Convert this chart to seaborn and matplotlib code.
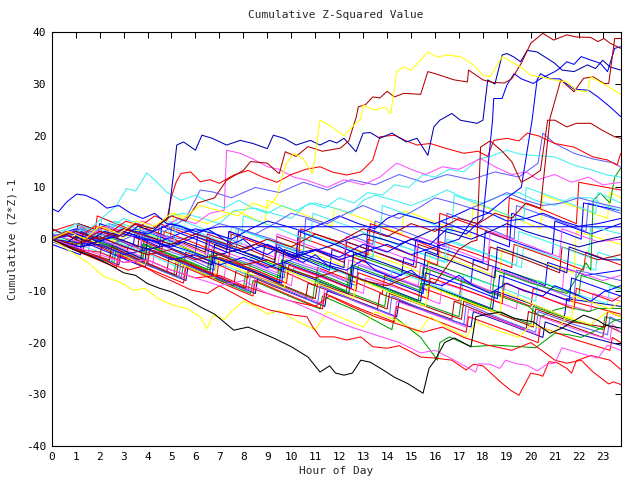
import matplotlib
matplotlib.use("Agg")
import matplotlib.pyplot as plt
import seaborn as sns
import pandas as pd

# ---------------- data (hour, cumulative value) ----------------
hour_ticks = list(range(0, 24))
value_ticks = [-40, -30, -20, -10, 0, 10, 20, 30, 40]

RED, GREEN, BLUE, MAG, CYAN = "#ff0000", "#00a000", "#0000ff", "#ff50ff", "#40f0f0"
DRED, YEL, SLATE, DBLUE, BLACK = "#b00000", "#ffff00", "#6060ff", "#0000b0", "#000000"

g01 = [(0,0),(0.8,-1.8),(0.9,0.5),(2,-1.5),(3.1,-3.8),(3.2,-1),(4.5,-3.5),(5.5,-5.5),(5.6,-2.5),(7,-5),(8.2,-7.5),(8.3,-4),(9.8,-6.5),(11,-9),(11.1,-5.5),(12.5,-8),(13.8,-10.5),(13.9,-7),(15.5,-9.5),(17,-12),(17.1,-8),(18.6,-10.5),(20,-13),(20.1,-9.5),(21.7,-12),(23.75,-14.5)]
g02 = [(0,1),(1.2,-1),(1.3,2.5),(2.6,0),(3.8,-2),(3.9,1.5),(5.2,-1),(6.4,-3.5),(6.5,0),(8,-2.5),(9.3,-5),(9.4,-2),(11,-4.5),(12.5,-7),(12.6,-3),(14.2,-5.5),(15.6,-8),(15.7,-4.5),(17.3,-7),(18.8,-9.5),(18.9,-6),(20.5,-8.5),(22,-11),(22.1,-7),(23.75,-9.5)]
g03 = [(0,2),(1,0),(1.1,3),(2.3,1),(3.4,-1.5),(3.5,2),(4.8,0),(6,-2.5),(6.1,1),(7.5,-1.5),(8.8,-4),(8.9,-1),(10.3,-3.5),(11.6,-6),(11.7,-2),(13.2,-4.5),(14.6,-7),(14.7,-3.5),(16.2,-6),(17.5,-8.5),(17.6,-4),(19.2,-6.5),(20.6,-9),(20.7,-4.5),(22.3,-7),(23.75,-6)]
g04 = [(0,0),(1.5,-3),(1.6,-0.5),(3,-3),(4.2,-5.5),(4.3,-2),(5.8,-5),(7.2,-7.5),(7.3,-4),(8.8,-6.5),(10,-9),(10.1,-5.5),(11.6,-8),(13,-10.5),(13.1,-7.5),(14.8,-10),(16.2,-12.5),(16.3,-8.5),(18,-11),(19.4,-13.5),(19.5,-9.5),(21,-12),(22.5,-14),(22.6,-10.5),(23.75,-12)]
g05 = [(0,1),(1,2.5),(2,1),(2.1,4),(3.3,2),(4.5,0),(4.6,3.5),(6,1),(7.4,-1.5),(7.5,2.5),(9,0),(10.3,-2.5),(10.4,1.5),(12,-1),(13.4,-3.5),(13.5,0.5),(15,-2),(16.5,-4.5),(16.6,-0.5),(18.2,-3),(19.6,-5.5),(19.7,-1.5),(21.3,-4),(22.7,-6),(22.8,-2.5),(23.75,-4)]
g06 = [(0,0),(1,-2),(2,-3.5),(2.1,-1),(3.5,-4),(4.8,-6.5),(4.9,-3.5),(6.3,-6.5),(7.6,-9),(7.7,-6),(9.2,-9),(10.6,-11.5),(10.7,-8.5),(12.2,-11),(13.6,-13.5),(13.7,-10.5),(15.2,-13),(16.7,-15.5),(16.8,-12),(18.4,-15),(19.8,-17.5),(19.9,-14),(21.5,-16.5),(23,-19),(23.1,-16.5),(23.75,-18)]
g07 = [(0,0.5),(1.2,-1.5),(1.3,1.5),(2.7,-0.5),(3.9,-3),(4,1),(5.5,-1.5),(6.8,-4),(6.9,-0.5),(8.4,-3),(9.7,-5.5),(9.8,-1),(11.3,-3.5),(12.6,-6),(12.7,-2),(14.3,-4.5),(15.7,-7),(15.8,-2.5),(17.3,-5),(18.7,-7.5),(18.8,-2),(20.4,-4.5),(21.8,-6.5),(21.9,1.5),(23.75,-1)]
g08 = [(0,-0.5),(1.3,-2.5),(1.4,0),(2.8,-2),(4,-4.5),(4.1,-1),(5.6,-3.5),(6.8,-6),(6.9,-2.5),(8.4,-5),(9.7,-7.5),(9.8,-4),(11.4,-6.5),(12.7,-9),(12.8,-5),(14.3,-7.5),(15.7,-10),(15.8,-6),(17.4,-8.5),(18.8,-11),(18.9,-6.5),(20.4,-9),(21.8,-11.5),(21.9,-6),(23.75,-8)]
g09 = [(0,0),(0.9,-2),(1,0.5),(2.4,-2),(3.7,-4.5),(3.8,-1.5),(5.3,-4),(6.6,-6.5),(6.7,-3.5),(8.2,-6),(9.5,-8.5),(9.6,-5.5),(11.1,-8),(12.4,-10.5),(12.5,-7),(14,-9.5),(15.4,-12),(15.5,-8.5),(17,-11),(18.4,-13.5),(18.5,-10),(20,-12.5),(21.4,-15),(21.5,-11.5),(23.75,-13)]
g10 = [(0,1.5),(1,3),(1.8,1),(1.9,4.5),(3.2,2),(4.4,-0.5),(4.5,3),(6,0.5),(7.3,-2),(7.4,1.5),(8.9,-1),(10.2,-3.5),(10.3,0.5),(11.8,-2),(13.1,-4.5),(13.2,0),(14.7,-2.5),(16.1,-5),(16.2,-0.5),(17.8,-3),(19.2,-5.5),(19.3,-1),(20.8,-3.5),(22.2,-6),(22.3,-2.5),(23.75,-5)]
g11 = [(0,0),(1.2,-2.5),(2.4,-4.5),(2.5,-2),(3.9,-4.5),(5.1,-7),(5.2,-4),(6.7,-7),(8,-9.5),(8.1,-6.5),(9.6,-9),(10.9,-11.5),(11,-8),(12.5,-10.5),(13.9,-13),(14,-10),(15.5,-12.5),(17,-15),(17.1,-11.5),(18.6,-14),(20,-16.5),(20.1,-13),(21.6,-15.5),(23,-17.5),(23.1,-15),(23.75,-16)]
g12 = [(0,0),(1,-1.5),(1.1,1.5),(2.5,-0.5),(3.7,-2.5),(3.8,1),(5.2,-1.5),(6.5,-3.5),(6.6,0),(8,-2.5),(9.3,-4.5),(9.4,-1),(10.9,-3.5),(12.2,-5.5),(12.3,-0.5),(13.8,-3),(15.1,-5),(15.2,0),(16.7,-2.5),(18,-4.5),(18.1,1.5),(19.6,-1),(20.9,-3),(21,3.5),(22.5,1),(23.75,3)]
g13 = [(0,0),(1.1,-1.5),(1.2,1),(2.6,-1),(3.8,-3.5),(3.9,0),(5.3,-2.5),(6.6,-5),(6.7,-1.5),(8.1,-4),(9.4,-6.5),(9.5,-3),(11,-5.5),(12.3,-8),(12.4,-4),(13.9,-6.5),(15.3,-9),(15.4,-5),(17,-7.5),(18.3,-10),(18.4,-5.5),(19.9,-8),(21.3,-10.5),(21.4,-5.5),(23,-8),(23.75,-7)]
g14 = [(0,0.5),(1.4,-1.5),(2.6,-3.5),(2.7,-0.5),(4.1,-3),(5.3,-5.5),(5.4,-2),(6.9,-4.5),(8.2,-7),(8.3,-3.5),(9.8,-6),(11.1,-8.5),(11.2,-5),(12.7,-7.5),(14.1,-10),(14.2,-6),(15.7,-8.5),(17.1,-11),(17.2,-7),(18.8,-9.5),(20.2,-12),(20.3,-8),(21.8,-10.5),(23.2,-12.5),(23.3,-9),(23.75,-10)]
g15 = [(0,2),(1,0),(1.1,3),(2.4,1),(3.6,-1.5),(3.7,2.5),(5.1,0),(6.4,-2.5),(6.5,1),(8,-1.5),(9.3,-4),(9.4,0.5),(10.9,-2),(12.2,-4.5),(12.3,-0.5),(13.8,-3),(15.2,-5.5),(15.3,-1),(16.9,-3.5),(18.2,-6),(18.3,-1.5),(19.8,-4),(21.2,-6.5),(21.3,-1.5),(22.8,-4),(23.75,-3)]
g16 = [(0,0),(1.3,-1),(1.4,2),(2.8,0),(4,2.5),(5,1),(5.1,5),(6.5,3),(7.7,5.5),(8.9,3),(9,7.5),(10.4,5),(11.7,2.5),(11.8,6),(13.3,3.5),(14.6,1),(14.7,5.5),(16.2,3),(17.5,0.5),(17.6,7),(19.1,4.5),(20.4,2),(20.5,8.5),(22,6),(23.2,4),(23.3,9),(23.75,8)]
g17 = [(0,0),(1.1,2),(2.3,0),(2.4,3),(3.7,1),(4.9,-1.5),(5,2.5),(6.4,0.5),(7.7,-2),(7.8,2),(9.2,0),(10.5,-2.5),(10.6,4),(12.1,1.5),(13.4,-1),(13.5,3.5),(15,1),(16.4,-1.5),(16.5,5),(18,2.5),(19.3,0),(19.4,6.5),(20.9,4),(22.3,1.5),(22.4,7),(23.75,5)]
g18 = [(0,0),(1.5,-3),(2.8,-5),(2.9,-2.5),(4.3,-5.5),(5.6,-8),(5.7,-5),(7.2,-8),(8.5,-10.5),(8.6,-7.5),(10.1,-10.5),(11.4,-13),(11.5,-10),(13,-12.5),(14.4,-15),(14.5,-12),(16,-14.5),(17.5,-17),(17.6,-14),(19.1,-16.5),(20.5,-19),(20.6,-16),(22.1,-18.5),(23.75,-20.5)]
g19 = [(0,0),(1,1.5),(2,-0.5),(2.1,2.5),(3.4,0.5),(4.6,-2),(4.7,1.5),(6.1,-1),(7.4,-3.5),(7.5,1),(9,-1.5),(10.3,-4),(10.4,2),(11.9,-0.5),(13.2,-3),(13.3,3),(14.8,0.5),(16.1,-2),(16.2,5),(17.7,2.5),(19,0),(19.1,8),(20.6,5.5),(21.9,3),(22,11),(23.75,9.5)]
g20 = [(0,0),(1.2,-2),(1.3,0.5),(2.6,-1.5),(3.8,-4),(3.9,-1),(5.3,-3.5),(6.6,-6),(6.7,-2.5),(8.2,-5),(9.5,-7.5),(9.6,-4),(11.1,-6.5),(12.4,-9),(12.5,-5),(14,-7.5),(15.4,-10),(15.5,-5.5),(17,-8),(18.4,-10.5),(18.5,-6),(20,-8.5),(21.5,-10.5),(22.3,-4.6),(22.5,-6),(22.6,7.5),(22.9,8.9),(23.3,7),(23.5,12),(23.75,13.7)]
g21 = [(0,0),(1,-1.5),(1.1,1),(2.5,-1.5),(3.7,-4),(3.8,-1),(5.2,-3.5),(6.5,-6),(6.6,-3),(8.1,-5.5),(9.4,-8),(9.5,-5),(11,-7.5),(12.3,-10),(12.4,-7),(13.9,-9.5),(15.3,-12),(15.4,-8.5),(16.9,-11),(18.3,-13.5),(18.4,-10.5),(19.9,-13),(20.4,-15),(21,-13.7),(21.5,-13.1),(22.4,-14),(22.8,-13.4),(23.75,-13.4)]
g22 = [(0,0),(1.3,-2.5),(2.6,-4.5),(2.7,-2),(4.1,-5),(5.4,-7.5),(5.5,-5),(7,-8),(8.3,-10.5),(8.4,-8),(9.9,-11),(11.2,-13.5),(11.3,-11),(12.8,-14),(14.2,-17.5),(14.3,-15),(15.4,-19),(16.1,-23.4),(16.2,-20),(16.6,-18.9),(17.5,-20.8),(18.5,-20.5),(19.6,-20.8),(20.2,-21),(21,-18.2),(21.6,-18.5),(22.1,-19),(22.6,-17.9),(23.2,-16.6),(23.5,-15.7),(23.75,-15.5)]
g23 = [(0,0),(1.4,-2.5),(2.7,-5),(2.8,-2),(4.2,-5),(5.5,-7.5),(5.6,-4.5),(7.1,-7.5),(8.4,-10),(8.5,-7),(10,-10),(11.3,-12.5),(11.4,-9.5),(12.9,-12.5),(14.3,-15),(14.4,-12),(15.9,-14.5),(17.3,-17),(17.4,-13.5),(18.9,-16),(20.3,-18.5),(20.4,-15),(21.9,-17.5),(23.3,-19.5),(23.4,-16.5),(23.75,-18)]
g24 = [(0,0),(1.2,1.5),(2.2,0),(2.3,3),(3.6,1),(4.8,-1.5),(4.9,3.5),(6.3,1),(7.6,-1.5),(7.7,2),(9.2,-0.5),(10.5,-3),(10.6,1),(12.1,-1.5),(13.4,-4),(13.5,0.5),(15,-2),(16.4,-4.5),(16.5,0),(18,-2.5),(19.4,-5),(19.5,1.5),(21,-1),(22.4,-3.5),(22.5,2.5),(23.75,1)]
g25 = [(0,-1),(1.2,-3),(1.3,-0.5),(2.6,-3),(3.9,-5.5),(4,-2),(5.4,-4.5),(6.7,-7),(6.8,-3.5),(8.3,-6),(9.6,-8.5),(9.7,-4.5),(11.2,-7),(12.5,-9.5),(12.6,-5.5),(14.1,-8),(15.5,-10.5),(15.6,-6.5),(17.2,-9),(18.6,-11.5),(18.7,-7),(20.2,-9.5),(21.6,-12),(21.7,-7.5),(23.2,-10),(23.75,-9)]
g26 = [(0,0),(1.3,-2.5),(1.4,0),(2.8,-2.5),(4,-5),(4.1,-2),(5.6,-4.5),(6.9,-7),(7,-3.5),(8.5,-6),(9.8,-8.5),(9.9,-5),(11.4,-7.5),(12.7,-10),(12.8,-6.5),(14.3,-9),(15.7,-11.5),(15.8,-7.5),(17.4,-10),(18.8,-12.5),(18.9,-8.5),(20.4,-11),(21.8,-13.5),(21.9,-9.5),(23.4,-12),(23.75,-11)]
g27 = [(0,0),(1.1,-2),(2.4,-4),(2.5,-1.5),(3.9,-4.5),(5.2,-7),(5.3,-4),(6.8,-7),(8.1,-9.5),(8.2,-6),(9.7,-9),(11,-11.5),(11.1,-8.5),(12.6,-11),(14,-13.5),(14.1,-10.5),(15.6,-13),(17.1,-15.5),(17.2,-12),(18.7,-14.5),(20.1,-17),(20.2,-13.5),(21.7,-16),(23.1,-17),(23.2,-14),(23.75,-15)]
g28 = [(0,0),(1.2,-2),(1.3,0.5),(2.7,-2.5),(3.9,-5),(4,-2),(5.5,-5),(6.8,-7.5),(6.9,-4),(8.4,-7),(9.7,-9.5),(9.8,-6),(11.3,-9),(12.6,-11.5),(12.7,-7.5),(14.2,-10.5),(15.6,-13),(15.7,-9),(17.3,-12),(18.7,-14.5),(18.8,-10),(20.3,-13),(21.7,-15.5),(21.8,-11),(23.3,-13.5),(23.75,-12)]
g29 = [(0,0),(1.2,-2.5),(2.5,-4.5),(2.6,-2),(4,-5),(5.3,-7.5),(5.4,-4.5),(6.9,-7.5),(8.2,-10),(8.3,-7),(9.8,-10),(11.1,-12.5),(11.2,-9),(12.7,-12),(14.1,-14.5),(14.2,-11),(15.7,-14),(17.2,-16.5),(17.3,-12.5),(18.8,-15.5),(20.2,-18),(20.3,-14),(21.8,-16.5),(23.2,-18.5),(23.3,-15),(23.75,-16)]
g30 = [(0,0.5),(1,2),(1.9,0),(2,3),(3.3,1),(4.5,-1.5),(4.6,2.5),(6,0),(7.3,-2.5),(7.4,1.5),(8.9,-1),(10.2,-3.5),(10.3,1.5),(11.8,-1),(13.1,-3.5),(13.2,2),(14.7,-0.5),(16.1,-3),(16.2,3.5),(17.7,1),(19.1,-1.5),(19.2,5),(20.7,2.5),(22.1,0),(22.2,7),(23.75,5.5)]
g31 = [(0,1),(1.1,-0.5),(1.2,2.5),(2.5,0.5),(3.7,-2),(3.8,2),(5.2,-0.5),(6.5,-3),(6.6,1.5),(8,-1),(9.3,-3.5),(9.4,1),(10.9,-1.5),(12.2,-4),(12.3,0.5),(13.8,-2),(15.2,-4.5),(15.3,0.5),(16.8,-2),(18.2,-4.5),(18.3,1.5),(19.8,-1),(21.2,-3.5),(21.3,2),(22.8,-0.5),(23.75,0)]
g32 = [(0,0),(1.3,2),(2.5,0),(2.6,3.5),(3.9,1.5),(5.1,-1),(5.2,4),(6.6,1.5),(7.9,-1),(8,4.5),(9.5,2),(10.8,-0.5),(10.9,5),(12.4,2.5),(13.7,0),(13.8,6.5),(15.3,4),(16.7,1.5),(16.8,8.5),(18.3,6),(19.7,3.5),(19.8,10),(21.3,7.5),(22.7,5),(22.8,9),(23.75,7)]
g33 = [(0,0),(1.2,-2),(1.3,1),(2.7,-1.5),(3.9,-4),(4,0),(5.4,-2.5),(6.7,-5),(6.8,-1),(8.3,-3.5),(9.6,-6),(9.7,-2),(11.2,-4.5),(12.5,-7),(12.6,-2.5),(14.1,-5),(15.5,-7.5),(15.6,-2.5),(17.1,-5),(18.5,-7.5),(18.6,-1.5),(20.1,-4),(21.5,-6.5),(21.6,-1.5),(23.1,-4),(23.75,-4)]
g34 = [(0,0),(1.4,-3),(2.7,-5.5),(2.8,-3),(4.2,-6),(5.5,-8.5),(5.6,-5.5),(7.1,-8.5),(8.4,-11),(8.5,-8),(10,-11),(11.3,-13.5),(11.4,-10.5),(12.9,-13.5),(14.3,-16),(14.4,-13),(15.9,-15.5),(17.3,-18),(17.4,-15),(18.9,-17.5),(20.3,-20),(20.4,-17),(21.9,-19.5),(23.3,-21.5),(23.4,-19),(23.75,-20)]
g35 = [(0,0),(0.7,1),(1.5,2),(2.2,1.5),(3,4),(3.6,3),(4.3,2),(5,4.5),(5.5,5),(6.3,4),(7,3),(7.6,5.5),(8.5,6),(9.2,5),(10,4),(10.6,6.5),(11,7),(11.8,6),(12.5,5),(13,7.5),(13.5,8.5),(14.3,7.5),(15,6.5),(15.8,8),(16.5,9.5),(17.2,8),(18,7),(18.8,8.5),(19.5,9),(20.2,7.5),(21,6.5),(21.7,8),(22.5,8),(23.1,6.5),(23.75,5.5)]
g36 = [(0,0),(0.8,-0.5),(1.5,-1),(2.3,0),(3,1),(3.8,0),(4.5,-0.5),(5.3,1),(6,2),(6.8,1),(7.5,0),(8.3,2),(9,3.5),(9.8,2.5),(10.5,1.5),(11.3,3),(12,4.5),(12.8,3),(13.5,2),(14,4),(14.5,5),(15.3,4),(16,3),(16.8,4.5),(17.5,6),(18.3,5),(19,3.5),(19.8,4),(20.5,5),(21.3,3.5),(22,2.5),(22.8,3),(23.75,4)]
g37 = [(0,0),(0.5,0.5),(1,1),(1.8,0),(2.5,-1),(3.3,0.5),(4,1.5),(4.8,0.5),(5.5,0),(6.3,1.5),(7,3),(7.8,2),(8.5,1),(9.3,3),(10,5),(10.8,4),(11.5,3),(12.3,5),(13,6.5),(13.8,5),(14.5,4),(15.3,6),(16,8),(16.8,7),(17.5,6),(18.3,7.5),(19,9),(19.8,7.5),(20.5,6.5),(21.3,7),(22,8),(22.8,7),(23.75,6)]
g38 = [(0,0),(0.6,-0.7),(1.2,-1.5),(1.9,-0.5),(2.5,0.5),(3.3,-0.8),(4,-2),(4.8,-1.2),(5.5,-0.5),(6.3,-1.8),(7,-3),(7.8,-2),(8.5,-1),(9.3,-2.2),(10,-3.5),(10.8,-2.5),(11.5,-1.5),(12.3,-0.2),(13,1),(13.8,0),(14.5,-1),(15.3,0.5),(16,2),(16.8,1),(17.5,0),(18.3,1.5),(19,3),(19.8,1.5),(20.5,0.5),(21.3,-0.5),(22,-1.5),(22.8,-0.5),(23.75,0.5)]

slate_hi = [(0,0),(1.2,2),(2.4,0.5),(3.5,3),(4.7,1.5),(5.6,4),(6.2,9.5),(6.75,9.1),(7.5,8),(8.5,10),(9.5,9),(10.5,11),(11.5,9.5),(12.5,11.5),(13.5,10.5),(14.5,12.5),(15.5,11),(16.5,12.5),(17.5,11.5),(18.5,13),(19.5,12),(20.3,14.7),(20.5,20.5),(21,18.5),(21.8,16.6),(22.6,15.5),(23.5,14.7),(23.75,13.9)]
cyan_hi = [(0,0),(0.5,1.5),(1,3),(1.6,2),(2.2,4.5),(2.7,6.5),(3.13,9.8),(3.5,9.3),(3.97,12.8),(4.4,11),(4.8,9.1),(5.4,7.5),(6,8.5),(6.6,7),(7.2,6),(7.8,7.5),(8.4,6),(9,5),(9.6,6.5),(10.2,5.5),(10.8,7),(11.4,6),(12,8),(12.6,7),(13.2,9),(13.8,8.5),(14.3,10.5),(14.9,10),(15.5,12.5),(16,12),(16.6,13.5),(17.2,13),(17.8,15.5),(18.3,16),(19,17.2),(19.5,16.5),(20.1,16.2),(21,15.9),(21.8,14.3),(22.6,13.3),(23.2,12.4),(23.75,12)]
magenta_hi = [(0,0),(0.8,1.5),(1.5,0.5),(2.3,2.5),(3,1.5),(3.8,3.5),(4.5,2),(5.3,4),(6,3),(6.6,5),(7.2,5.6),(7.3,17.2),(7.87,16.6),(8.4,15.5),(9.0,14),(9.5,13.5),(10.1,12),(10.65,11.4),(11.5,10),(12.2,11.5),(13,10.5),(13.7,12),(14.4,14.7),(15,13.5),(15.6,12.5),(16.3,14),(17,13.5),(17.9,15.6),(18.5,14),(19.2,12.5),(19.8,13),(20.3,11.5),(21,12.5),(21.7,11),(22.4,12),(23,10.5),(23.75,11)]
red_hi = [(0,0),(0.6,1.5),(1.2,0.5),(1.8,2.5),(2.5,1.5),(3.1,3.5),(3.7,2.5),(4.3,4.5),(4.8,3.5),(5.0,8.2),(5.2,11.1),(5.4,12.7),(5.8,13),(6.2,11.1),(6.6,11.5),(7.0,10.8),(7.6,12.4),(8.2,13.3),(8.8,12),(9.4,11),(10.0,12.5),(10.6,13.5),(11.2,14),(11.7,13),(12.3,12.4),(12.9,13),(13.4,15.3),(13.7,19.8),(14.3,20.1),(14.8,19),(15.25,18.2),(15.8,18.5),(16.5,17.5),(17.2,16.6),(17.8,17),(18.2,16),(18.45,19.1),(19.0,19.5),(19.5,19),(19.85,20.5),(20.3,20),(21,18.5),(21.8,17.8),(22.6,15.9),(23.2,15.3),(23.6,14.3),(23.75,16.6)]
blue_start6 = [(0,5.9),(0.28,5.3),(0.63,7.2),(1.04,8.7),(1.4,8.5),(1.88,7.5),(2.3,6),(2.8,6.5),(3.3,5),(3.8,4),(4.3,5),(4.8,3),(5.4,2.5),(6,1),(6.5,2),(7,0.5),(7.5,-1),(8,0),(8.5,-2),(9,-3),(9.5,-1.5),(10,-3.5),(10.5,-4.5),(11,-3),(11.5,-5),(12.3,-6),(13,-4),(13.5,-6),(14.3,-7.5),(15,-6),(15.5,-8),(16.3,-9),(17,-7),(17.6,-9),(18.3,-10.5),(19,-8.5),(19.7,-10),(20.5,-11),(21,-9),(21.8,-10.5),(22.5,-12),(23.1,-10),(23.75,-11)]
blue_flat = [(0,0),(1,1.5),(2,0),(3,2),(4,1),(5,3),(6,1.5),(7,2.4),(23.75,2.4)]
blue_jump20 = [(0,0),(1,1),(2,-0.5),(3,1.5),(4,0),(5,-1.5),(6,0.5),(7,-1),(8,-2.5),(9,-1),(10,-3),(11,-2),(12,-4),(13,-2.5),(14,-1),(15,-3),(16,-1.5),(17,0),(17.6,4),(18.2,5),(19,8),(19.6,10),(20.05,23),(20.26,30.8),(20.4,32),(20.8,31),(21.2,31),(21.8,29),(22.4,28.8),(22.8,27.5),(23.3,25.6),(23.75,23.7)]
blue_jump18 = [(0,0),(1,-1.5),(2,-1),(3,-3),(4,-2),(5,-4),(6,-3),(7,-5),(8,-3.5),(9,-5.5),(10,-4),(11,-2),(12,-3.5),(13,-1),(14,-2.5),(15,0),(15.8,-1),(16.5,2),(17.3,1),(18,4),(18.4,23),(18.45,27.2),(18.8,27.2),(19.0,29.8),(19.3,32),(19.6,31),(20.1,30.1),(20.4,31),(21.0,32.4),(21.2,33),(21.5,34.3),(21.8,33.8),(22.1,35.3),(22.4,34.8),(22.9,34),(23.2,32.4),(23.5,36.9),(23.75,37.2)]
blue_plateau = [(0,0),(0.5,-1),(1,0.5),(1.5,-0.5),(2.2,1.5),(3,0.5),(3.6,2.5),(4.2,1.5),(4.87,4.3),(5.07,12),(5.22,18.2),(5.5,18.8),(6.0,17.2),(6.27,20.1),(6.7,19.5),(7.3,18.2),(7.87,19.1),(8.4,18.5),(9.0,17.5),(9.25,20.1),(9.7,19.5),(10.2,18.2),(10.8,19.1),(11.2,18.2),(11.6,19.1),(11.9,18.6),(12.2,19.5),(12.7,16.9),(13.0,20.5),(13.3,20.6),(13.7,19.5),(14.2,20.5),(14.8,18.8),(15.25,19.5),(15.7,16.2),(15.95,21.7),(16.2,23),(16.7,24.3),(17.06,23),(17.75,22.4),(18.0,23),(18.2,30.8),(18.5,30),(18.8,35.6),(19.0,35.9),(19.3,35.2),(19.57,34.3),(19.85,36.5),(20.26,36.2),(20.7,34.9),(21.0,34),(21.3,32.7),(21.8,32.4),(22.36,33.7),(22.7,33),(23.0,34.6),(23.3,33.3),(23.75,32.7)]
dred_top = [(0,0),(0.6,1),(1.2,-0.5),(2,1.5),(2.8,0.5),(3.5,3),(4.2,2),(5,4.5),(5.6,3.5),(6.1,7),(6.8,8),(7.3,11.4),(8.0,13.3),(8.3,15),(9.0,14.7),(9.4,13),(9.5,12.7),(9.75,16.9),(10.2,16),(10.7,17.9),(11.3,17),(12.05,17.6),(12.4,19),(12.6,22),(12.7,23.4),(12.8,25.6),(13.1,26),(13.4,27.5),(13.7,27.3),(14.0,28.6),(14.3,27.5),(14.7,28.2),(15.4,28),(15.7,32.4),(16.0,32),(16.4,31.4),(16.8,30.8),(17.35,30.4),(17.4,32.7),(18.0,30.8),(18.4,30.3),(18.9,30.2),(19.2,31),(19.6,34),(20.0,37.9),(20.5,39.8),(20.95,38.5),(21.5,39.5),(21.9,39.1),(22.5,39),(22.8,38.2),(23.05,38.8),(23.3,37.9),(23.75,36.9)]
dred_mid = [(0,0),(1,-1),(2,0.5),(3,-1.5),(4,-3),(5,-2),(6,-4),(7,-3),(8,-5),(9,-4),(10,-6),(11,-7.5),(12,-6),(13,-8),(14,-9),(15,-7),(16,-8.5),(17,-2),(17.5,-0.5),(17.75,-0.2),(17.9,17.8),(18.3,19),(18.8,17),(19.2,15),(19.6,11),(20.0,12),(20.4,13.3),(20.7,23),(21.0,23),(21.5,21.7),(21.9,22.4),(22.5,22.4),(23.0,21),(23.5,19.8),(23.75,19.5)]
dred_late = [(0,0),(1,1.5),(2,0),(3,2),(4,0.5),(5,-1),(6,1),(7,-0.5),(8,-2),(9,0),(10,-1.5),(11,1),(12,-0.5),(13,2),(14,0.5),(15,3),(16,1.5),(17,4),(17.8,3),(18.5,5),(19.2,4),(19.8,7),(20.4,6),(20.8,23.4),(21.25,30.8),(21.8,28.5),(22.2,31.1),(22.6,31.4),(23.05,30.1),(23.25,30.1),(23.5,38.8),(23.75,38.8)]
yellow_top = [(0,0),(0.7,1.5),(1.4,0),(2,2.5),(2.8,1),(3.5,3.5),(4.3,2.5),(5,5),(5.5,4),(6.2,6.5),(7,5.5),(7.8,4.5),(8.4,7),(9,6),(9.4,8.2),(9.75,14.3),(10.1,16.6),(10.5,15.5),(10.9,12.7),(11.2,23),(11.6,22),(12.2,20),(12.6,22),(12.9,23.3),(13.0,25.9),(13.45,25),(13.9,25.5),(14.15,24.3),(14.4,32.4),(14.7,33.3),(15.0,32.7),(15.4,34.6),(15.7,36.2),(16.1,35.2),(16.5,35.6),(17.06,35.3),(17.6,33.7),(18.0,31.7),(18.3,31.4),(18.6,33.7),(18.8,35.3),(19.1,34.5),(19.57,33.3),(20.0,31.7),(20.4,31.4),(20.96,30.8),(21.5,30.4),(21.9,28.8),(22.36,28.5),(22.5,31.4),(23.0,30.1),(23.75,28)]
yellow_low = [(0,0),(0.5,-1.5),(1,-3),(1.5,-4.5),(2.2,-7.3),(2.86,-8.3),(3.4,-9.9),(3.9,-9.5),(4.4,-11.4),(5.07,-12.8),(5.64,-13.4),(6.2,-15),(6.48,-17.3),(6.75,-14.7),(7.2,-15.5),(7.5,-14),(8,-12),(8.5,-13),(9,-14.5),(9.5,-13.8),(10.3,-16),(11,-17.5),(11.5,-14),(12,-15),(13,-17),(13.5,-14),(14.5,-16),(15.3,-18),(15.8,-15),(16.5,-17),(17.3,-19),(17.7,-16),(18.5,-17.5),(19.5,-19),(20,-16.5),(21,-18),(21.5,-15),(22.5,-16.5),(23.2,-14),(23.75,-15)]
red_low1 = [(0,0),(0.7,-1.5),(1.3,-2.8),(2,-3.5),(2.6,-5),(3.2,-6),(3.8,-5.2),(4.5,-7),(5.2,-8.5),(5.8,-9.8),(6.5,-10.5),(7,-9),(7.8,-11),(8.4,-12.5),(9.1,-13.7),(10.1,-14.7),(10.65,-15),(10.9,-17),(11.2,-18.9),(11.8,-18.9),(12.3,-19.5),(12.9,-18.9),(13.4,-20.8),(14.0,-21.1),(14.5,-20.6),(15.0,-21.8),(15.4,-22.8),(16.0,-23),(16.7,-23.4),(17.3,-25.3),(17.6,-24.2),(18.0,-24.5),(18.73,-27.6),(19.15,-29.2),(19.5,-30.2),(20.0,-25.9),(20.3,-26.2),(20.5,-26.5),(20.75,-23.7),(21.1,-23.9),(21.5,-25),(21.7,-25.9),(21.9,-23.5),(22.5,-22.5),(23.3,-23.4),(23.75,-25.2)]
red_low2 = [(0,0),(1,-2),(2,-2.5),(3,-4.5),(4,-4),(5,-6),(6,-7.5),(7,-7),(8,-9),(9,-10.5),(10,-12),(11,-13),(11.6,-11),(12.5,-13),(13.5,-15),(14.5,-16.5),(15.5,-18),(16.3,-17),(17.2,-19),(18.2,-20.5),(19.2,-21.5),(20,-20),(20.6,-22),(21.0,-23.4),(21.5,-24),(22.1,-23.4),(22.6,-25.7),(23.25,-28),(23.45,-27.6),(23.75,-28.1)]
magenta_low = [(0,0),(1,-1.5),(2,-3),(3,-4.5),(4,-4),(5,-6),(6,-7.5),(7,-9),(8,-8),(9,-10.5),(10,-12),(11,-14),(11.8,-15.7),(12.5,-17),(13.5,-18.5),(14.5,-20),(15.4,-22),(16.0,-21.5),(16.8,-23.4),(17.2,-24.4),(17.7,-25.7),(17.8,-24.1),(18.3,-24.2),(18.7,-25),(18.95,-23.4),(19.4,-24.1),(19.85,-24.4),(20.27,-25.5),(20.7,-24.1),(21.0,-24),(21.3,-21),(22,-22),(22.8,-23),(23.2,-20.5),(23.75,-21.5)]
black_line = [(0,0),(0.5,-1),(1,-2.2),(1.5,-3),(2,-4),(2.45,-5),(3,-6.5),(3.5,-7),(4,-8.6),(4.5,-9.5),(5,-10.2),(5.6,-11.5),(6.2,-13.1),(6.8,-14.5),(7.6,-17.6),(8.2,-17),(8.7,-18),(9.3,-19.2),(10,-20.8),(10.7,-22.8),(11.2,-25.7),(11.6,-24.5),(11.85,-25.9),(12.2,-26.3),(12.55,-25.9),(12.9,-23.4),(13.3,-23.8),(13.8,-25.2),(14.3,-26.7),(14.85,-27.9),(15.5,-29.8),(15.75,-25),(16,-23.4),(16.4,-20),(16.8,-19.1),(17.5,-20.8),(17.7,-15),(18.2,-14.5),(18.75,-14.1),(19.3,-15.3),(20.1,-16),(20.8,-18.2),(21.3,-17.2),(22.2,-14.7),(22.8,-15.7),(23.1,-16.6),(23.75,-17.2)]

series = [
    (g01, RED), (g02, GREEN), (g03, BLUE), (g04, MAG), (g05, CYAN), (g06, DRED),
    (g07, YEL), (g08, SLATE), (g09, DBLUE), (g10, RED), (g11, GREEN), (g12, BLUE),
    (g13, MAG), (g14, CYAN), (g15, DRED), (g16, YEL), (g17, SLATE), (g18, DBLUE),
    (g19, RED), (g20, GREEN), (g21, GREEN), (g22, GREEN), (g23, MAG), (g24, CYAN),
    (g25, BLUE), (g26, RED), (g27, DRED), (g28, YEL), (g29, SLATE), (g30, BLUE),
    (g31, MAG), (g32, CYAN), (g33, DBLUE), (g34, RED),
    (g35, CYAN), (g36, BLUE), (g37, SLATE), (g38, DBLUE),
    (slate_hi, SLATE), (cyan_hi, CYAN), (magenta_hi, MAG), (red_hi, RED),
    (blue_start6, BLUE), (blue_flat, BLUE), (blue_jump20, BLUE), (blue_jump18, BLUE),
    (blue_plateau, DBLUE), (dred_top, DRED), (dred_mid, DRED), (dred_late, DRED),
    (yellow_top, YEL), (yellow_low, YEL), (red_low1, RED), (red_low2, RED),
    (magenta_low, MAG), (black_line, BLACK),
]

# ---------------- plotting ----------------
sns.set_style("white")
plt.rcParams["font.family"] = ["DejaVu Sans Mono", "DejaVu Sans"]

fig = plt.figure(figsize=(6.4, 4.8), dpi=100)
ax = fig.add_axes([51.7 / 640, 1 - 446 / 480, (620.7 - 51.7) / 640, (446 - 32.3) / 480])

for pts, col in series:
    df = pd.DataFrame(pts, columns=["hour", "value"])
    sns.lineplot(data=df, x="hour", y="value", color=col, linewidth=0.75,
                 estimator=None, sort=False, antialiased=True, ax=ax)

ax.set_xlim(0, 23.75)
ax.set_ylim(-40, 40)
ax.set_xticks(hour_ticks)
ax.set_xticklabels([str(h) for h in hour_ticks])
ax.set_yticks(value_ticks)
ax.set_yticklabels([str(v) for v in value_ticks])
ax.tick_params(direction="in", length=4.5, width=0.72, colors="black", labelsize=8,
               top=True, right=True, pad=4)
for sp in ax.spines.values():
    sp.set_visible(True)
    sp.set_color("black")
    sp.set_linewidth(0.8)
ax.grid(False)
ax.set_xlabel("Hour of Day", fontsize=8, labelpad=3)
ax.set_ylabel("Cumulative (Z*Z)-1", fontsize=8, labelpad=6)
fig.text(336 / 640, 1 - 15 / 480, "Cumulative Z-Squared Value", ha="center", va="center", fontsize=8)

fig.savefig("out.png", dpi=100, facecolor="white")
